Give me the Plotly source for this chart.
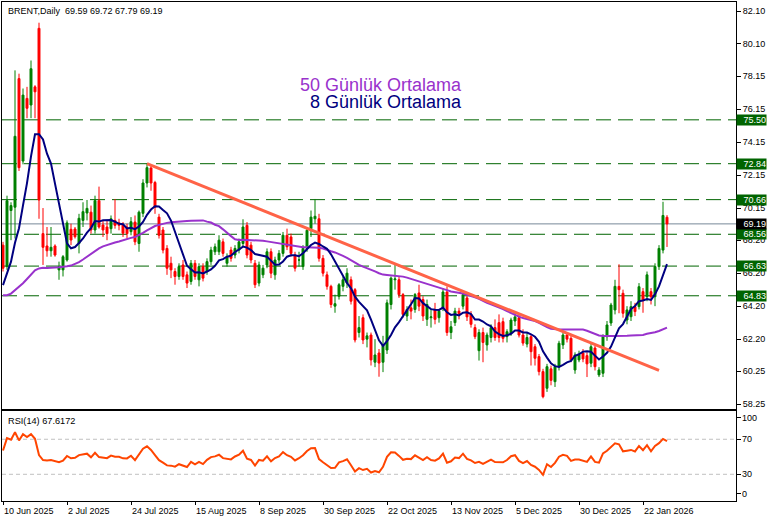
import numpy as np
import plotly.graph_objects as go

# ---------------- data ----------------
opens = [67.9, 66.6, 70.0, 70.2, 78.0, 73.0, 76.8, 76.4, 77.5, 81.05,
         68.6, 67.85, 67.56, 67.85, 66.4, 66.4, 67.0, 68.86, 68.88, 68.0,
         69.4, 69.85, 69.9, 68.82, 70.6, 69.12, 69.0, 68.9, 69.4, 69.25,
         69.12, 69.0, 68.72, 69.3, 68.0, 69.83, 71.67, 72.58, 71.7, 69.6,
         68.82, 67.7, 66.8, 66.3, 66.0, 66.7, 66.1, 65.7, 66.8, 65.8,
         66.6, 66.3, 66.9, 67.5, 67.5, 68.1, 66.8, 67.6, 67.3, 67.6,
         68.0, 69.1, 67.9, 66.8, 65.6, 66.1, 66.7, 67.5, 66.1, 67.0,
         67.4, 68.5, 68.4, 67.3, 67.0, 66.6, 67.7, 68.9, 69.5, 69.5,
         67.1, 66.1, 65.4, 64.2, 64.8, 65.4, 65.6, 65.8, 65.2, 62.6,
         63.5, 62.2, 62.45, 60.8, 61.36, 60.8, 61.54, 64.3, 65.8, 65.8,
         64.9, 63.6, 64.1, 64.0, 65.0, 64.6, 63.4, 63.5, 64.0, 63.5,
         64.1, 65.06, 62.6, 63.2, 63.9, 64.2, 64.7, 63.7, 62.9, 61.5,
         62.6, 61.85, 62.3, 62.9, 63.2, 63.26, 62.35, 62.57, 63.3, 63.5,
         62.45, 61.9, 62.35, 61.74, 61.14, 60.23, 59.22, 60.4, 59.62, 60.53,
         61.85, 62.45, 62.25, 60.33, 60.94, 61.36, 61.2, 60.74, 61.66, 60.03,
         60.13, 62.35, 63.18, 63.97, 65.4, 64.98, 63.36, 63.56, 64.17, 64.17,
         65.08, 64.77, 65.08, 64.77, 66.6, 67.6, 69.59]
highs = [68.1, 70.9, 70.5, 78.5, 78.3, 77.4, 77.5, 79.1, 77.6, 81.39,
         70.15, 69.0, 69.0, 67.95, 66.9, 67.3, 69.4, 69.2, 69.0, 69.8,
         70.5, 70.64, 70.3, 70.9, 71.45, 69.4, 69.4, 69.7, 70.7, 69.5,
         69.3, 69.2, 69.6, 69.7, 70.0, 71.9, 72.84, 72.7, 71.8, 69.8,
         69.0, 67.9, 67.2, 66.5, 66.8, 67.0, 66.3, 67.0, 67.0, 66.8,
         66.8, 67.1, 67.8, 68.0, 68.5, 68.3, 67.4, 67.8, 67.9, 68.3,
         69.47, 69.3, 68.1, 67.0, 66.9, 66.7, 67.7, 67.7, 67.2, 67.6,
         68.7, 68.9, 68.6, 67.5, 67.5, 67.9, 69.0, 70.0, 70.7, 69.8,
         67.3, 66.3, 65.5, 64.9, 65.6, 66.0, 66.5, 66.0, 65.3, 63.6,
         63.7, 62.6, 62.6, 62.2, 61.6, 62.4, 64.6, 66.0, 66.7, 66.0,
         65.0, 64.2, 64.6, 65.0, 65.5, 64.8, 64.6, 64.0, 64.4, 64.0,
         65.3, 65.4, 63.3, 64.1, 64.1, 65.0, 64.9, 63.9, 63.1, 62.8,
         62.9, 62.6, 63.1, 63.4, 63.7, 63.5, 62.8, 63.5, 63.9, 63.7,
         62.8, 62.6, 62.5, 61.9, 61.3, 60.4, 60.7, 60.6, 60.7, 62.1,
         62.7, 62.6, 62.4, 61.4, 61.5, 61.6, 61.4, 61.9, 61.8, 60.5,
         62.5, 63.3, 64.4, 65.8, 66.74, 65.2, 64.2, 64.5, 64.4, 65.6,
         65.3, 66.3, 65.3, 66.8, 67.9, 70.53, 69.72]
lows = [66.3, 66.4, 68.2, 68.3, 72.4, 72.8, 75.6, 75.6, 75.6, 69.5,
        66.7, 67.2, 67.2, 67.2, 65.8, 66.0, 66.9, 67.9, 68.3, 67.4,
        69.0, 69.4, 68.6, 68.6, 68.9, 68.4, 68.2, 68.6, 68.9, 68.8,
        68.4, 68.3, 68.5, 67.9, 67.5, 69.6, 71.4, 71.2, 69.8, 68.3,
        67.4, 66.1, 65.9, 65.5, 65.8, 65.8, 65.3, 65.5, 65.8, 65.4,
        65.7, 66.1, 66.7, 67.3, 67.3, 67.2, 66.6, 66.9, 67.1, 67.4,
        67.8, 67.1, 66.8, 65.3, 65.4, 65.9, 66.5, 65.9, 65.8, 66.8,
        67.2, 67.6, 67.2, 66.3, 66.6, 66.4, 67.5, 68.4, 69.2, 66.9,
        66.0, 65.2, 64.1, 63.8, 64.6, 65.1, 65.3, 64.3, 62.0, 62.3,
        61.9, 61.7, 60.6, 60.5, 59.92, 60.2, 61.3, 64.0, 65.2, 64.7,
        63.5, 63.3, 63.4, 63.8, 63.9, 63.3, 63.0, 62.9, 63.1, 63.2,
        63.9, 62.4, 62.2, 63.0, 63.4, 64.0, 63.3, 62.9, 62.2, 60.9,
        60.8, 61.5, 62.0, 62.1, 62.0, 62.0, 62.0, 62.4, 63.0, 62.3,
        61.8, 61.7, 60.6, 60.6, 60.0, 58.61, 59.0, 59.4, 59.3, 60.3,
        61.6, 62.0, 60.8, 60.1, 60.8, 60.8, 59.9, 60.5, 60.3, 59.9,
        59.9, 62.1, 63.0, 63.7, 63.77, 63.5, 63.1, 63.3, 63.6, 64.0,
        63.8, 64.5, 64.3, 64.2, 66.4, 67.4, 67.79]
closes = [66.5, 70.6, 70.3, 74.5, 72.6, 77.0, 76.2, 78.6, 77.2, 70.64,
          67.77, 67.56, 67.77, 67.3, 66.6, 67.2, 69.25, 68.21, 68.41, 69.53,
          69.93, 70.13, 68.82, 70.6, 69.0, 68.82, 68.6, 69.5, 69.1, 69.1,
          68.62, 68.6, 69.32, 68.1, 69.9, 71.67, 72.6, 71.67, 70.2, 68.5,
          67.6, 66.5, 66.4, 66.0, 66.6, 66.0, 65.6, 66.8, 66.0, 66.6,
          65.9, 66.9, 67.6, 67.8, 68.2, 67.4, 67.2, 67.1, 67.7, 68.1,
          69.0, 67.3, 67.0, 65.5, 66.7, 66.5, 67.5, 66.2, 67.0, 67.4,
          68.5, 67.8, 67.4, 66.5, 67.0, 67.7, 68.8, 69.6, 69.65, 67.1,
          66.2, 65.4, 64.3, 64.35, 65.5, 65.8, 66.2, 64.5, 62.15, 62.9,
          62.15, 62.4, 60.94, 61.24, 60.75, 61.85, 64.4, 65.9, 65.85, 64.9,
          63.7, 64.0, 63.9, 64.9, 64.2, 63.6, 64.3, 63.55, 63.4, 63.9,
          65.06, 62.6, 62.95, 63.9, 63.75, 64.9, 63.55, 63.1, 62.35, 62.6,
          62.0, 62.45, 62.9, 62.3, 62.3, 62.25, 62.65, 63.36, 63.55, 62.45,
          61.96, 62.3, 61.44, 61.04, 60.23, 58.71, 60.53, 59.7, 60.53, 61.95,
          62.45, 62.2, 60.94, 61.24, 61.24, 61.0, 60.7, 61.74, 60.53, 60.33,
          62.35, 63.06, 64.27, 65.4, 65.2, 63.77, 63.97, 64.17, 63.87, 65.38,
          64.57, 66.1, 64.77, 66.6, 67.7, 69.7, 69.19]
# closes before the first visible bar (estimated so the averages start where the picture shows)
prior_closes = [70.1, 65.6, 64.2, 62.8, 65.5, 63.3, 64.8, 64.9, 64.7, 65.9,
                68.0, 66.3, 67.4, 66.1, 66.6, 66.9, 65.9, 64.3, 63.1, 62.1,
                61.3, 60.2, 62.2, 61.1, 62.8, 63.9, 65.0, 66.6, 66.1, 64.5,
                65.4, 65.5, 65.4, 64.9, 64.4, 64.8, 64.7, 64.1, 64.9, 64.2,
                63.9, 64.6, 64.6, 64.9, 65.3, 65.6, 65.9, 65.4, 65.6]

level_values = [75.50, 72.84, 70.66, 68.56, 66.63, 64.83]
last_price = 69.19
trend_x = [36, 164]
trend_y = [72.84, 60.30]

price_ticks = [82.10, 80.10, 78.15, 76.15, 74.15, 72.15, 70.15, 68.20, 66.20, 64.20, 62.20, 60.25, 58.25]
price_tick_text = ["82.10", "80.10", "78.15", "76.15", "74.15", "72.15", "70.15", "68.20",
                   "66.20", "64.20", "62.20", "60.25", "58.25"]
date_tick_pos = [0, 16, 32, 48, 64, 80, 96, 112, 128, 144, 160]
date_tick_text = ["10 Jun 2025", "2 Jul 2025", "24 Jul 2025", "15 Aug 2025", "8 Sep 2025",
                  "30 Sep 2025", "22 Oct 2025", "13 Nov 2025", "5 Dec 2025", "30 Dec 2025",
                  "22 Jan 2026"]
rsi_tick_pos = [94.3, 70, 30, 7.5]
rsi_tick_text = ["100", "70", "30", "0"]
rsi_label = "RSI(14) 67.6172"
title_text = "BRENT,Daily\u00a0\u00a069.59 69.72 67.79 69.19"

# ---------------- indicators ----------------
n = len(closes)
idx = list(range(n))
allc = np.array(prior_closes + closes, dtype=float)
p = len(prior_closes)


def sma(arr, w):
    out = np.full(len(arr), np.nan)
    for k in range(w - 1, len(arr)):
        out[k] = arr[k - w + 1:k + 1].mean()
    return out


ma8 = sma(allc, 8)[p:]
ma50 = sma(allc, 50)[p:]

diff = np.diff(allc)
gain = np.where(diff > 0, diff, 0.0)
loss = np.where(diff < 0, -diff, 0.0)
rsi_all = np.full(len(allc), np.nan)
ag = gain[:14].mean()
al = loss[:14].mean()
rsi_all[14] = 100 - 100 / (1 + ag / al) if al > 0 else 100
for k in range(14, len(diff)):
    ag = (ag * 13 + gain[k]) / 14
    al = (al * 13 + loss[k]) / 14
    rsi_all[k + 1] = 100 - 100 / (1 + ag / al) if al > 0 else 100
rsi = rsi_all[p:]

# ---------------- figure ----------------
FONT = "Liberation Sans, Arial, sans-serif"
xr = [-0.25, 183.25]
y2r = [-0.5, 102.3]
rsi_dom = [0, 0.1804]
fig = go.Figure()

fig.add_trace(go.Candlestick(
    x=idx, open=opens, high=highs, low=lows, close=closes,
    increasing=dict(line=dict(color="#008000", width=1), fillcolor="#008000"),
    decreasing=dict(line=dict(color="#FF0000", width=1), fillcolor="#FF0000"),
    whiskerwidth=0, hoverinfo="skip", xaxis="x", yaxis="y"))

fig.add_trace(go.Scatter(x=idx, y=ma50, mode="lines", line=dict(color="#9932CC", width=2),
                         hoverinfo="skip", xaxis="x", yaxis="y"))
fig.add_trace(go.Scatter(x=idx, y=ma8, mode="lines", line=dict(color="#000080", width=2),
                         hoverinfo="skip", xaxis="x", yaxis="y"))
fig.add_trace(go.Scatter(x=trend_x, y=trend_y, mode="lines", line=dict(color="#FF6347", width=3),
                         hoverinfo="skip", xaxis="x", yaxis="y"))
fig.add_trace(go.Scatter(x=idx, y=rsi, mode="lines", line=dict(color="#FF4500", width=2),
                         hoverinfo="skip", xaxis="x2", yaxis="y2"))

shapes = []
for v in level_values:
    shapes.append(dict(type="line", xref="x domain", yref="y", x0=0, x1=1, y0=v, y1=v,
                       line=dict(color="#006400", width=1, dash="15px,7px"), layer="below"))
shapes.append(dict(type="line", xref="x domain", yref="y", x0=0, x1=1, y0=last_price, y1=last_price,
                   line=dict(color="#778899", width=1), layer="below"))
for v in [70, 30]:
    shapes.append(dict(type="line", xref="x2 domain", yref="y2", x0=0, x1=1, y0=v, y1=v,
                       line=dict(color="#C0C0C0", width=1, dash="4px,3px"), layer="below"))

ann = []
for v in level_values:
    ann.append(dict(xref="paper", yref="y", x=1, y=v, xanchor="left", yanchor="middle",
                    text=f"{v:.2f}", showarrow=False, bgcolor="#006400", width=29, align="right",
                    borderpad=0, font=dict(family=FONT, size=9, color="white")))
ann.append(dict(xref="paper", yref="y", x=1, y=last_price, xanchor="left", yanchor="middle",
                text=f"{last_price:.2f}", showarrow=False, bgcolor="#000000", width=29, align="right",
                borderpad=0, font=dict(family=FONT, size=9, color="white")))
for pos, txt in zip(rsi_tick_pos, rsi_tick_text):
    frac = (pos - y2r[0]) / (y2r[1] - y2r[0])
    ypaper = rsi_dom[0] + frac * (rsi_dom[1] - rsi_dom[0])
    ann.append(dict(xref="paper", yref="paper", x=1, y=ypaper, xanchor="left", yanchor="middle",
                    xshift=4, text=txt, showarrow=False,
                    font=dict(family=FONT, size=9, color="black")))
for pos, txt in zip(date_tick_pos, date_tick_text):
    ann.append(dict(xref="x2", yref="paper", x=pos, y=0, xanchor="left", yanchor="middle",
                    yshift=-10, xshift=-1, text=txt, showarrow=False,
                    font=dict(family=FONT, size=9, color="black")))
ann.append(dict(xref="paper", yref="paper", x=0, y=1, xanchor="left", yanchor="middle",
                xshift=4, yshift=-9, text=title_text, showarrow=False,
                font=dict(family=FONT, size=9, color="black")))
ann.append(dict(xref="paper", yref="paper", x=0, y=rsi_dom[1], xanchor="left", yanchor="middle",
                xshift=4, yshift=-10, text=rsi_label, showarrow=False,
                font=dict(family=FONT, size=9.2, color="black")))
ann.append(dict(xref="paper", yref="paper", x=0.6294, y=0.8337, xanchor="right", yanchor="middle",
                text="50 Günlük Ortalama", showarrow=False,
                font=dict(family=FONT, size=18, color="#9932CC")))
ann.append(dict(xref="paper", yref="paper", x=0.6294, y=0.8000, xanchor="right", yanchor="middle",
                text="8 Günlük Ortalama", showarrow=False,
                font=dict(family=FONT, size=18, color="#000080")))

axis_common = dict(showgrid=False, zeroline=False, showline=True, mirror=True,
                   linecolor="black", linewidth=1, automargin=False)
fig.update_layout(
    template="none",
    width=775, height=522, margin=dict(l=2, r=39, t=2, b=21, autoexpand=False),
    paper_bgcolor="white", plot_bgcolor="white", showlegend=False,
    hovermode=False,
    xaxis=dict(domain=[0, 1], range=xr, anchor="y", showticklabels=False, ticks="",
               rangeslider=dict(visible=False), **axis_common),
    yaxis=dict(domain=[0.1838, 1], range=[57.946, 82.646], anchor="x", side="right",
               tickvals=price_ticks, ticktext=price_tick_text, ticks="outside", ticklen=4,
               tickcolor="black", tickfont=dict(family=FONT, size=9, color="black"), **axis_common),
    xaxis2=dict(domain=[0, 1], range=xr, anchor="y2", tickvals=date_tick_pos,
                ticktext=[""] * len(date_tick_pos), ticks="outside", ticklen=3, tickcolor="black",
                rangeslider=dict(visible=False), **axis_common),
    yaxis2=dict(domain=rsi_dom, range=y2r, anchor="x2", side="right",
                tickvals=rsi_tick_pos, ticktext=[""] * len(rsi_tick_pos), ticks="outside", ticklen=4,
                tickcolor="black", **axis_common),
    shapes=shapes, annotations=ann,
)

fig.write_html("out.html", config={"displayModeBar": False},
               post_script="document.body.style.margin='0';document.body.style.overflow='hidden';")
